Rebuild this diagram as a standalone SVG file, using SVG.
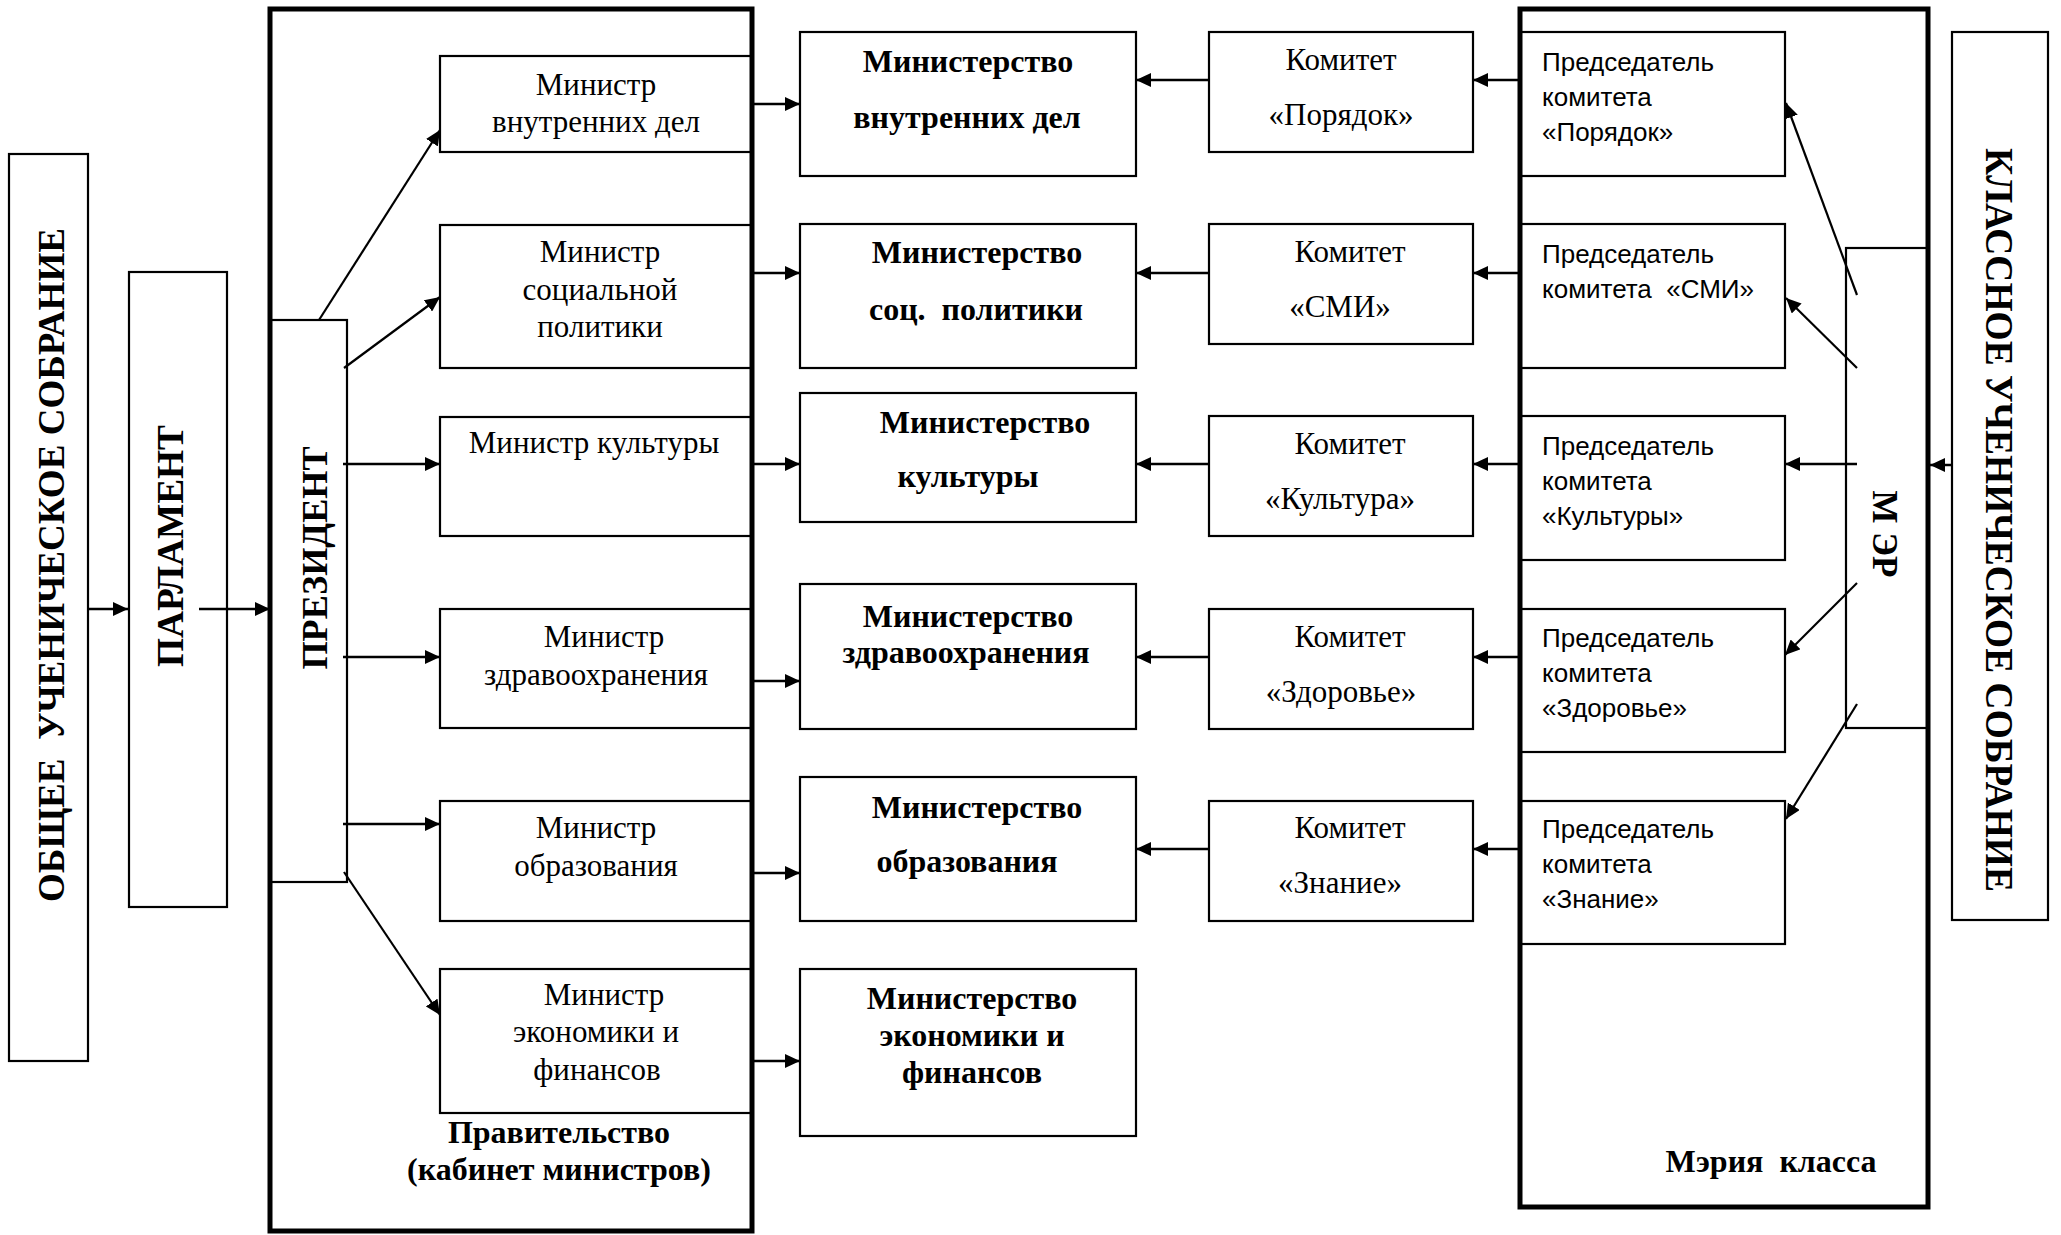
<svg xmlns="http://www.w3.org/2000/svg" width="2061" height="1235" viewBox="0 0 2061 1235">
<style>
.box{fill:#fff;stroke:#000;stroke-width:2.2}
.cont{fill:none;stroke:#000;stroke-width:5}
.ser{font-family:"Liberation Serif","Times New Roman",serif;font-size:31px;fill:#000;text-anchor:middle}
.bold{font-family:"Liberation Serif","Times New Roman",serif;font-size:32px;font-weight:bold;fill:#000;text-anchor:middle}
.sans{font-family:"Liberation Sans",Arial,sans-serif;font-size:26px;fill:#000}
.vert{font-family:"Liberation Serif","Times New Roman",serif;font-weight:bold;fill:#000;text-anchor:middle}
.con{fill:none;stroke:#000;stroke-width:2.5;marker-end:url(#ah)}
.dg{fill:none;stroke:#000;stroke-width:2.2;marker-end:url(#ah)}
</style>
<defs>
<marker id="ah" markerUnits="userSpaceOnUse" markerWidth="16" markerHeight="14" refX="15" refY="7" orient="auto">
<path d="M0,0 L15,7 L0,14 z" fill="#000"/>
</marker>
</defs>
<rect width="2061" height="1235" fill="#fff"/>

<g id="obshchee">
<rect class="box" x="9" y="154" width="79" height="907"/>
<text class="vert" font-size="38" xml:space="preserve" textLength="674" lengthAdjust="spacingAndGlyphs" transform="translate(51,565) rotate(-90)" x="0" y="13">ОБЩЕЕ  УЧЕНИЧЕСКОЕ СОБРАНИЕ</text>
</g>
<g id="parlament">
<rect class="box" x="129" y="272" width="98" height="635"/>
<text class="vert" font-size="38" textLength="242" lengthAdjust="spacingAndGlyphs" transform="translate(170,546) rotate(-90)" x="0" y="13">ПАРЛАМЕНТ</text>
</g>

<g id="min1"><rect class="box" x="440" y="56" width="312" height="96"/>
<text class="ser" x="596" y="95">Министр</text><text class="ser" x="596" y="132">внутренних дел</text></g>
<g id="min2"><rect class="box" x="440" y="225" width="312" height="143"/>
<text class="ser" x="600" y="262">Министр</text><text class="ser" x="600" y="300">социальной</text><text class="ser" x="600" y="337">политики</text></g>
<g id="min3"><rect class="box" x="440" y="417" width="312" height="119"/>
<text class="ser" x="594" y="453">Министр культуры</text></g>
<g id="min4"><rect class="box" x="440" y="609" width="312" height="119"/>
<text class="ser" x="604" y="647">Министр</text><text class="ser" x="596" y="685">здравоохранения</text></g>
<g id="min5"><rect class="box" x="440" y="801" width="312" height="120"/>
<text class="ser" x="596" y="838">Министр</text><text class="ser" x="596" y="876">образования</text></g>
<g id="min6"><rect class="box" x="440" y="969" width="312" height="144"/>
<text class="ser" x="604" y="1005">Министр</text><text class="ser" x="596" y="1042">экономики и</text><text class="ser" x="597" y="1080">финансов</text></g>

<g id="prezident">
<rect class="box" x="270" y="320" width="77" height="562"/>
<text class="vert" font-size="36" textLength="223" lengthAdjust="spacingAndGlyphs" transform="translate(315,558) rotate(-90)" x="0" y="12">ПРЕЗИДЕНТ</text>
</g>

<g id="pravitelstvo">
<rect class="cont" x="270" y="9" width="482" height="1222"/>
<text class="bold" x="559" y="1143">Правительство</text>
<text class="bold" x="559" y="1180">(кабинет министров)</text>
</g>

<g id="ministry1"><rect class="box" x="800" y="32" width="336" height="144"/>
<text class="bold" x="968" y="72">Министерство</text><text class="bold" x="967" y="128">внутренних дел</text></g>
<g id="ministry2"><rect class="box" x="800" y="224" width="336" height="144"/>
<text class="bold" x="977" y="263">Министерство</text><text class="bold" x="976" y="320" xml:space="preserve">соц.  политики</text></g>
<g id="ministry3"><rect class="box" x="800" y="393" width="336" height="129"/>
<text class="bold" x="985" y="433">Министерство</text><text class="bold" x="968" y="487">культуры</text></g>
<g id="ministry4"><rect class="box" x="800" y="584" width="336" height="145"/>
<text class="bold" x="968" y="627">Министерство</text><text class="bold" x="966" y="663">здравоохранения</text></g>
<g id="ministry5"><rect class="box" x="800" y="777" width="336" height="144"/>
<text class="bold" x="977" y="818">Министерство</text><text class="bold" x="967" y="872">образования</text></g>
<g id="ministry6"><rect class="box" x="800" y="969" width="336" height="167"/>
<text class="bold" x="972" y="1009">Министерство</text><text class="bold" x="972" y="1046">экономики и</text><text class="bold" x="972" y="1083">финансов</text></g>

<g id="komitet1"><rect class="box" x="1209" y="32" width="264" height="120"/>
<text class="ser" x="1341" y="70">Комитет</text><text class="ser" x="1341" y="125">«Порядок»</text></g>
<g id="komitet2"><rect class="box" x="1209" y="224" width="264" height="120"/>
<text class="ser" x="1350" y="262">Комитет</text><text class="ser" x="1340" y="317">«СМИ»</text></g>
<g id="komitet3"><rect class="box" x="1209" y="416" width="264" height="120"/>
<text class="ser" x="1350" y="454">Комитет</text><text class="ser" x="1340" y="509">«Культура»</text></g>
<g id="komitet4"><rect class="box" x="1209" y="609" width="264" height="120"/>
<text class="ser" x="1350" y="647">Комитет</text><text class="ser" x="1341" y="702">«Здоровье»</text></g>
<g id="komitet5"><rect class="box" x="1209" y="801" width="264" height="120"/>
<text class="ser" x="1350" y="838">Комитет</text><text class="ser" x="1340" y="893">«Знание»</text></g>

<g id="pred1"><rect class="box" x="1520" y="32" width="265" height="144"/>
<text class="sans" x="1542" y="71">Председатель</text><text class="sans" x="1542" y="106">комитета</text><text class="sans" x="1542" y="141">«Порядок»</text></g>
<g id="pred2"><rect class="box" x="1520" y="224" width="265" height="144"/>
<text class="sans" x="1542" y="263">Председатель</text><text class="sans" x="1542" y="298" xml:space="preserve">комитета  «СМИ»</text></g>
<g id="pred3"><rect class="box" x="1520" y="416" width="265" height="144"/>
<text class="sans" x="1542" y="455">Председатель</text><text class="sans" x="1542" y="490">комитета</text><text class="sans" x="1542" y="525">«Культуры»</text></g>
<g id="pred4"><rect class="box" x="1520" y="609" width="265" height="143"/>
<text class="sans" x="1542" y="647">Председатель</text><text class="sans" x="1542" y="682">комитета</text><text class="sans" x="1542" y="717">«Здоровье»</text></g>
<g id="pred5"><rect class="box" x="1520" y="801" width="265" height="143"/>
<text class="sans" x="1542" y="838">Председатель</text><text class="sans" x="1542" y="873">комитета</text><text class="sans" x="1542" y="908">«Знание»</text></g>

<g id="mer">
<rect class="box" x="1846" y="248" width="82" height="480"/>
<text class="vert" font-size="35" xml:space="preserve" transform="translate(1885,534) rotate(90)" x="0" y="12">М ЭР</text>
</g>

<g id="meriya">
<rect class="cont" x="1520" y="9" width="408" height="1198"/>
<text class="bold" x="1771" y="1172" xml:space="preserve" font-size="30">Мэрия  класса</text>
</g>

<g id="klassnoe">
<rect class="box" x="1952" y="32" width="96" height="888"/>
<text class="vert" font-size="40" textLength="744" lengthAdjust="spacingAndGlyphs" transform="translate(2000,520) rotate(90)" x="0" y="14">КЛАССНОЕ УЧЕНИЧЕСКОЕ СОБРАНИЕ</text>
</g>

<g id="connectors">
<path class="con" d="M88,609 L128,609"/>
<path class="con" d="M199,609 L270,609"/>
<path class="dg" d="M319,320 L440,130"/>
<path class="dg" d="M344,368 L440,297"/>
<path class="con" d="M343,464 L440,464"/>
<path class="con" d="M343,657 L440,657"/>
<path class="con" d="M343,824 L440,824"/>
<path class="dg" d="M344,872 L440,1015"/>
<path class="con" d="M752,104 L800,104"/>
<path class="con" d="M752,273 L800,273"/>
<path class="con" d="M752,464 L800,464"/>
<path class="con" d="M752,681 L800,681"/>
<path class="con" d="M752,873 L800,873"/>
<path class="con" d="M752,1061 L800,1061"/>
<path class="con" d="M1209,80 L1136,80"/>
<path class="con" d="M1209,273 L1136,273"/>
<path class="con" d="M1209,464 L1136,464"/>
<path class="con" d="M1209,657 L1136,657"/>
<path class="con" d="M1209,849 L1136,849"/>
<path class="con" d="M1520,80 L1473,80"/>
<path class="con" d="M1520,273 L1473,273"/>
<path class="con" d="M1520,464 L1473,464"/>
<path class="con" d="M1520,657 L1473,657"/>
<path class="con" d="M1520,849 L1473,849"/>
<path class="dg" d="M1857,295 L1786,103"/>
<path class="dg" d="M1857,368 L1786,298"/>
<path class="con" d="M1857,464 L1785,464"/>
<path class="dg" d="M1857,583 L1785,655"/>
<path class="dg" d="M1857,704 L1786,819"/>
<path class="con" d="M1952,465 L1930,465"/>
</g>
</svg>
